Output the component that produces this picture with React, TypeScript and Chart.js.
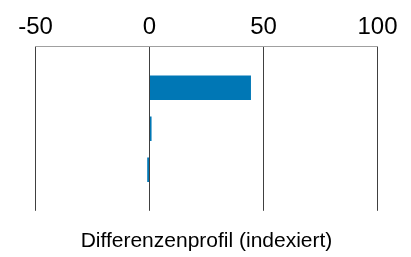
import React, { useEffect, useRef } from "react";
import { Chart, registerables } from "chart.js";

Chart.register(...registerables);

const categories = ["", "Profil A", "Profil B", "Profil C", ""];
const values = [null, 44.5, 0.9, -1, null];
const xTicks = [-50, 0, 50, 100];
const titleText = "Differenzenprofil (indexiert)";

export default function App() {
  const ref = useRef<HTMLCanvasElement>(null);
  useEffect(() => {
    const ctx = ref.current!;
    const chart = new Chart(ctx, {
      type: "bar",
      data: {
        labels: categories,
        datasets: [
          {
            data: values as any,
            backgroundColor: "#0077B5",
            borderWidth: 0,
            barPercentage: 0.6,
            categoryPercentage: 1,
          },
        ],
      },
      options: {
        indexAxis: "y",
        animation: false,
        responsive: false,
        maintainAspectRatio: false,
        layout: { padding: { left: 27.5, right: 25.5, top: 0, bottom: 3 } },
        plugins: {
          legend: { display: false },
          tooltip: { enabled: false },
          title: {
            display: true,
            text: titleText,
            position: "bottom",
            color: "#000",
            font: { family: "Liberation Sans, Arial, sans-serif", size: 21, weight: "normal" },
            padding: { top: 18, bottom: 0 },
          },
        },
        scales: {
          x: {
            position: "top",
            min: xTicks[0],
            max: xTicks[xTicks.length - 1],
            afterBuildTicks: (axis: any) => {
              axis.ticks = xTicks.map((v) => ({ value: v }));
            },
            grid: { color: "#404040", lineWidth: 1, drawTicks: false },
            border: { color: "#a0a0a0", width: 1 },
            ticks: {
              color: "#000",
              padding: 5,
              font: { family: "Liberation Sans, Arial, sans-serif", size: 24 },
            },
          },
          y: {
            display: false,
            offset: false,
          },
        },
      },
    });
    return () => chart.destroy();
  }, []);
  return (
    <div style={{ width: 395, height: 249 }}>
      <canvas ref={ref} width={395} height={249} />
    </div>
  );
}
